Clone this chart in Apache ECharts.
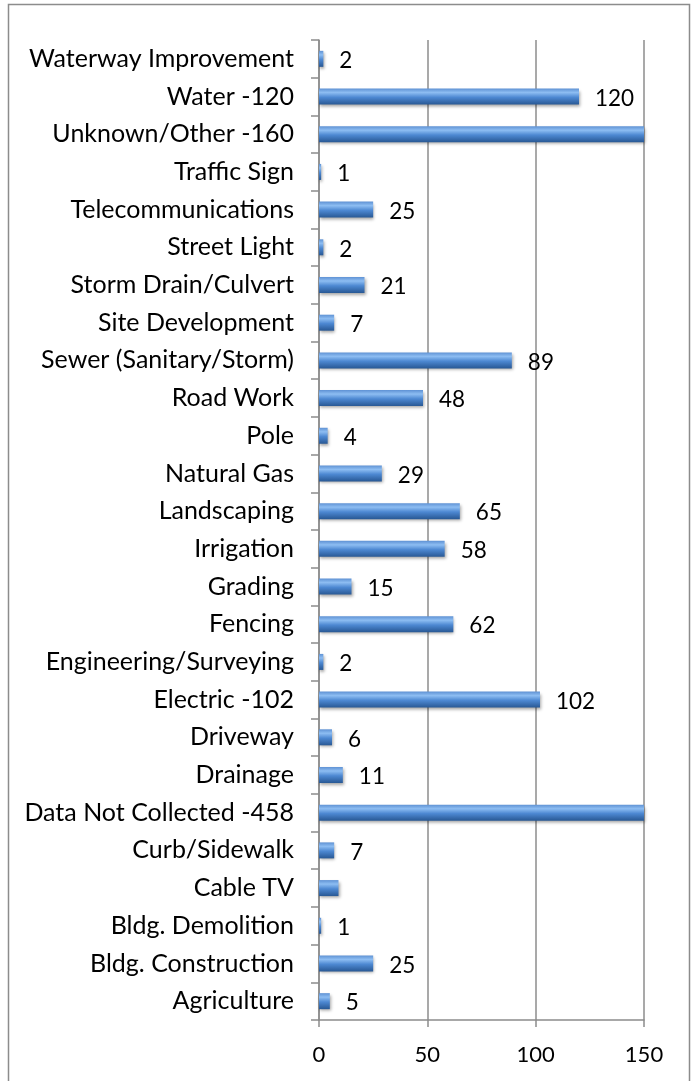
<!DOCTYPE html>
<html><head><meta charset="utf-8">
<script src="https://cdn.jsdelivr.net/npm/echarts@6/dist/echarts.min.js"></script>
<style>html,body{margin:0;padding:0;background:#fff}#c{width:699px;height:1081px}</style>
</head><body><div id="c"></div>
<script>
const categories = ["Agriculture","Bldg. Construction","Bldg. Demolition","Cable TV","Curb/Sidewalk","Data Not Collected -458","Drainage","Driveway","Electric -102","Engineering/Surveying","Fencing","Grading","Irrigation","Landscaping","Natural Gas","Pole","Road Work","Sewer (Sanitary/Storm)","Site Development","Storm Drain/Culvert","Street Light","Telecommunications","Traffic Sign","Unknown/Other -160","Water -120","Waterway Improvement"];
const values = [5,25,1,9,7,458,11,6,102,2,62,15,58,65,29,4,48,89,7,21,2,25,1,160,120,2];
const hiddenLabels = ["Cable TV","Data Not Collected -458","Unknown/Other -160"];
const xTicks = [0,50,100,150];

const font = 'Lato, "Open Sans", sans-serif';
const chart = echarts.init(document.getElementById('c'));
const barColor = new echarts.graphic.LinearGradient(0,0,0,1,[
  {offset:0,color:'#5f92d4'},
  {offset:0.25,color:'#8dbdf2'},
  {offset:0.55,color:'#4d88d2'},
  {offset:1,color:'#285894'}
]);
chart.setOption({
  animation:false,
  graphic:[{type:'rect',shape:{x:8.5,y:4.5,width:681,height:1090},style:{fill:'none',stroke:'#8c8c8c',lineWidth:1.5},z:-1}],
  grid:{left:319,right:55,top:40,bottom:61},
  xAxis:{type:'value',min:xTicks[0],max:xTicks[xTicks.length-1],interval:50,
    axisLine:{show:true,lineStyle:{color:'#8c8c8c',width:1.5}},
    axisTick:{show:true,length:7,lineStyle:{color:'#8c8c8c',width:1.5}},
    splitLine:{show:true,lineStyle:{color:'#8c8c8c',width:1.5}},
    axisLabel:{fontFamily:font,fontSize:22,color:'#000',margin:24}},
  yAxis:{type:'category',data:categories,
    axisLine:{show:true,lineStyle:{color:'#8c8c8c',width:1.5}},
    axisTick:{show:true,length:8,lineStyle:{color:'#8c8c8c',width:1.5}},
    axisLabel:{fontFamily:font,fontSize:25,color:'#000',margin:25}},
  series:[{type:'bar',barWidth:16,clip:true,
    data:values.map((v,i)=>({value:v,label:{show:!hiddenLabels.includes(categories[i])}})),
    itemStyle:{color:barColor,shadowColor:'rgba(0,0,0,0.35)',shadowBlur:3,shadowOffsetX:1,shadowOffsetY:2},
    label:{position:'right',distance:16,fontFamily:font,fontSize:22.5,color:'#000',offset:[0,2]}
  }]
});
</script></body></html>
